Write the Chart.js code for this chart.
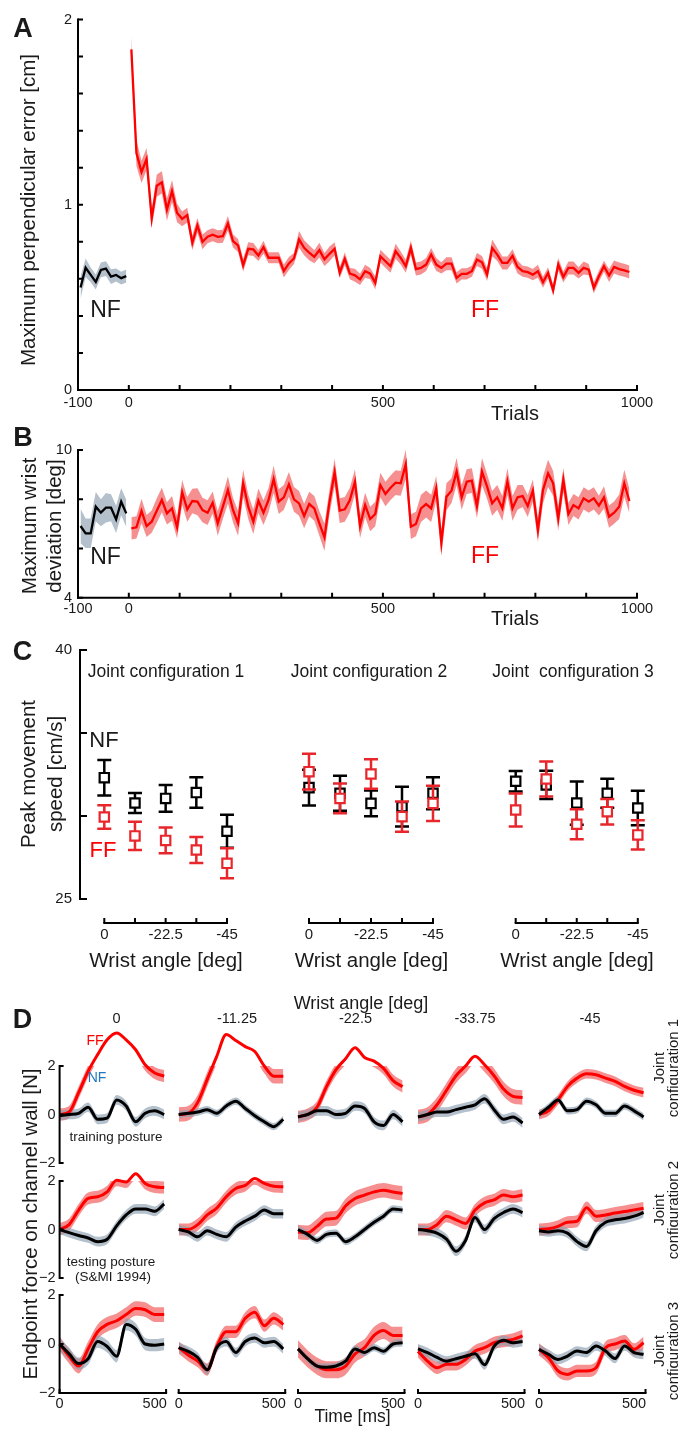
<!DOCTYPE html>
<html>
<head>
<meta charset="utf-8">
<title>Force-field adaptation</title>
<script src="https://cdn.jsdelivr.net/npm/chart.js@4.4.1/dist/chart.umd.min.js"></script>
<style>
  body { margin: 0; background: #fff; }
  #fig { position: relative; width: 678px; height: 1435px; overflow: hidden;
         font-family: "Liberation Sans", Arial, Helvetica, sans-serif; color: #1a1a1a; }
  #fig canvas { position: absolute; z-index: 1; }
  .t { position: absolute; z-index: 2; white-space: pre; line-height: 1; text-align: center;
       transform: translate(-50%, -50%); }
</style>
</head>
<body>
<div id="fig"></div>
<script>
// --- PANEL A / B : 10-trial bins ---
const trialsNF = [-95, -85, -75, -65, -55, -45, -35, -25, -15, -5];
const trialsFF = [];
for (let t = 5; t < 990; t += 10) trialsFF.push(t);   // bin centres

const perpNF = [0.553, 0.660, 0.621, 0.583, 0.648, 0.655, 0.612, 0.621, 0.604, 0.615];
const perpNFse = [0.06, 0.05, 0.04, 0.04, 0.04, 0.04, 0.04, 0.035, 0.035, 0.035];
const perpFF = [
  1.839, 1.279, 1.177, 1.247, 0.926, 1.103, 1.121, 0.974, 1.073, 0.956,
  0.924, 0.944, 0.795, 0.888, 0.800, 0.827, 0.838, 0.827, 0.830, 0.899,
  0.804, 0.780, 0.673, 0.762, 0.759, 0.726, 0.771, 0.714, 0.714, 0.714,
  0.642, 0.683, 0.710, 0.813, 0.768, 0.741, 0.719, 0.755, 0.705, 0.735,
  0.762, 0.633, 0.708, 0.628, 0.619, 0.597, 0.641, 0.628, 0.578, 0.722,
  0.695, 0.668, 0.749, 0.713, 0.668, 0.767, 0.653, 0.659, 0.677, 0.731,
  0.677, 0.659, 0.682, 0.682, 0.605, 0.627, 0.627, 0.641, 0.704, 0.689,
  0.623, 0.767, 0.731, 0.686, 0.686, 0.725, 0.664, 0.641, 0.636, 0.623,
  0.641, 0.582, 0.632, 0.539, 0.677, 0.610, 0.659, 0.659, 0.632, 0.659,
  0.650, 0.551, 0.614, 0.668, 0.618, 0.664, 0.653, 0.646, 0.637];
const perpFFse = [
  0.07, 0.07, 0.06, 0.06, 0.05, 0.06, 0.06, 0.06, 0.06, 0.05,
  0.04, 0.04, 0.04, 0.04, 0.04, 0.035, 0.035, 0.035, 0.035, 0.04,
  0.035, 0.035, 0.035, 0.035, 0.035, 0.03, 0.035, 0.03, 0.03, 0.03,
  0.035, 0.035, 0.03, 0.045, 0.04, 0.04, 0.035, 0.04, 0.035, 0.04,
  0.035, 0.03, 0.035, 0.03, 0.035, 0.03, 0.035, 0.03, 0.035, 0.035,
  0.035, 0.035, 0.04, 0.035, 0.035, 0.04, 0.035, 0.035, 0.035, 0.035,
  0.035, 0.03, 0.035, 0.035, 0.03, 0.03, 0.03, 0.03, 0.035, 0.035,
  0.035, 0.045, 0.035, 0.035, 0.035, 0.035, 0.035, 0.03, 0.03, 0.03,
  0.035, 0.03, 0.03, 0.03, 0.035, 0.03, 0.035, 0.035, 0.03, 0.035,
  0.03, 0.03, 0.03, 0.03, 0.035, 0.035, 0.035, 0.035, 0.035];

const wristNF = [6.912, 6.614, 6.614, 7.697, 7.454, 7.657, 7.657, 7.183, 7.901, 7.427];
const wristNFse = [0.7, 0.6, 0.6, 0.6, 0.55, 0.6, 0.55, 0.55, 0.55, 0.55];
const wristFF = [
  6.817, 6.858, 7.521, 6.912, 7.088, 7.535, 7.968, 7.427, 7.630, 6.858,
  8.280, 7.589, 7.928, 7.901, 7.562, 7.454, 7.860, 7.020, 7.697, 8.375,
  7.562, 7.020, 8.646, 7.697, 7.088, 7.941, 7.454, 7.968, 8.808, 7.901,
  8.077, 8.605, 7.995, 7.833, 7.318, 7.806, 7.630, 7.020, 6.451, 7.901,
  9.093, 7.535, 7.589, 7.968, 8.713, 6.912, 7.765, 7.196, 7.399, 8.578,
  8.212, 8.469, 8.673, 8.646, 9.418, 6.885, 6.993, 7.630, 7.806, 7.630,
  8.442, 6.235, 8.104, 8.348, 9.120, 8.077, 8.713, 8.754, 7.725, 9.120,
  8.510, 7.833, 8.077, 7.630, 8.713, 7.630, 8.077, 8.131, 7.725, 8.348,
  6.749, 8.375, 9.052, 8.646, 7.223, 8.781, 7.399, 7.765, 7.630, 8.036,
  7.901, 8.036, 7.738, 8.077, 7.291, 7.454, 7.697, 8.646, 7.928];
const wristFFse = [
  0.45, 0.45, 0.5, 0.45, 0.45, 0.5, 0.5, 0.45, 0.5, 0.45,
  0.5, 0.5, 0.5, 0.55, 0.5, 0.5, 0.45, 0.5, 0.5, 0.55,
  0.5, 0.5, 0.55, 0.5, 0.5, 0.5, 0.5, 0.5, 0.55, 0.5,
  0.5, 0.5, 0.5, 0.5, 0.5, 0.5, 0.5, 0.5, 0.55, 0.5,
  0.55, 0.5, 0.5, 0.5, 0.5, 0.5, 0.5, 0.5, 0.5, 0.5,
  0.5, 0.5, 0.5, 0.5, 0.6, 0.5, 0.5, 0.55, 0.55, 0.55,
  0.5, 0.55, 0.55, 0.5, 0.55, 0.5, 0.5, 0.5, 0.5, 0.55,
  0.5, 0.5, 0.5, 0.5, 0.55, 0.5, 0.5, 0.45, 0.45, 0.45,
  0.5, 0.55, 0.55, 0.5, 0.5, 0.5, 0.45, 0.45, 0.45, 0.45,
  0.45, 0.45, 0.4, 0.45, 0.45, 0.45, 0.5, 0.55, 0.5];

const trialTicks = [-100, 0, 100, 200, 300, 400, 500, 600, 700, 800, 900, 1000];
const trialLabels = [-100, 0, 500, 1000];
const perpTicks = [0, 0.2, 0.4, 0.6, 0.8, 1, 1.2, 1.4, 1.6, 1.8, 2];
const perpLabels = [0, 1, 2];
const wristTicks = [4, 6, 8, 10];
const wristLabels = [4, 10];

// --- PANEL C : peak speed per joint configuration ---
const cAngles = [0, -11.25, -22.5, -33.75, -45];
const cAngleLabels = [0, -22.5, -45];
const cSpeedTicks = [25, 30, 35, 40];
const cSpeedLabels = [25, 40];
const cNF = [[32.31, 30.78, 31.06, 31.41, 29.08], [31.71, 31.37, 30.76, 30.56, 31.37], [32.09, 31.87, 30.78, 31.37, 30.48]];
const cNFse = [[1.07, 0.6, 0.8, 0.92, 1.0], [1.08, 1.05, 0.78, 1.2, 0.96], [0.62, 0.85, 1.3, 0.87, 1.04]];
const cFF = [[29.94, 28.80, 28.53, 27.95, 27.15], [32.67, 31.06, 32.53, 29.96, 30.76], [30.36, 32.23, 29.5, 30.26, 28.86]];
const cFFse = [[0.71, 0.85, 0.78, 0.78, 0.9], [1.08, 0.9, 0.89, 0.91, 1.06], [1.0, 1.05, 0.9, 0.77, 0.88]];

// --- PANEL D : channel force traces (one inner array per wrist angle) ---
const dTime = [0, 50, 100, 150, 200, 250, 300, 350, 400, 450, 500, 550];
const dAngles = ['0', '-11.25', '-22.5', '-33.75', '-45'];
const dForceTicks = [-2, 0, 2];
const dTimeTicks = [0, 560];
const dTimeLabels = [0, 500];
const dFF1 = [
  [0, 0.1, 0.9, 1.78, 2.47, 3.08, 3.36, 3.08, 2.67, 2.05, 1.71, 1.58],
  [0, 0.05, 0.5, 1.45, 2.4, 3.3, 3.05, 2.8, 2.6, 2.0, 1.58, 1.58],
  [-0.1, 0.0, 0.3, 1.15, 1.85, 2.3, 2.75, 2.35, 2.2, 1.9, 1.4, 1.15],
  [-0.1, 0.0, 0.4, 1.0, 1.6, 2.0, 2.4, 2.05, 1.6, 1.05, 0.75, 0.7],
  [0, 0.15, 0.6, 1.16, 1.5, 1.68, 1.64, 1.5, 1.37, 1.16, 1.0, 0.9]];
const dNF1 = [
  [-0.05, 0.0, 0.05, 0.3, -0.2, -0.15, 0.6, 0.35, -0.3, 0.05, 0.15, 0.0],
  [0, 0.05, 0.1, 0.2, 0.05, 0.35, 0.55, 0.25, -0.05, -0.3, -0.5, -0.2],
  [-0.1, 0.0, 0.15, 0.15, 0.0, 0.05, 0.35, 0.25, -0.3, -0.45, 0.0, -0.3],
  [-0.1, 0.0, 0.1, 0.1, 0.2, 0.3, 0.4, 0.65, 0.2, -0.2, -0.1, -0.35],
  [0, 0.3, 0.6, 0.15, 0.2, 0.55, 0.4, 0.05, 0.05, 0.35, 0.15, -0.1]];
const dFF2 = [
  [0, 0.2, 0.8, 1.28, 1.35, 1.55, 2.03, 1.96, 2.3, 1.9, 1.76, 1.73],
  [0, 0, 0.2, 0.6, 0.88, 1.35, 1.69, 1.82, 2.1, 1.9, 1.78, 1.76],
  [-0.1, -0.13, 0.13, 0.43, 0.47, 0.97, 1.28, 1.42, 1.55, 1.62, 1.55, 1.49],
  [0, 0, 0.2, 0.55, 0.4, 0.25, 0.8, 1.1, 1.22, 1.42, 1.35, 1.42],
  [0, 0.03, 0.13, 0.3, 0.34, 0.9, 0.55, 0.6, 0.68, 0.74, 0.81, 0.88]];
const dNF2 = [
  [0, -0.13, -0.25, -0.35, -0.5, -0.4, 0.15, 0.6, 0.85, 0.85, 0.75, 1.05],
  [0, -0.1, -0.3, -0.05, -0.2, -0.3, 0.1, 0.35, 0.55, 0.8, 0.65, 0.65],
  [0, -0.2, -0.45, -0.2, -0.15, -0.5, -0.3, 0.0, 0.3, 0.55, 0.85, 0.8],
  [0, -0.05, -0.15, -0.4, -0.9, -0.45, 0.5, 0.0, 0.45, 0.7, 0.85, 0.7],
  [-0.05, -0.1, -0.05, -0.15, -0.5, -0.7, -0.05, 0.3, 0.4, 0.45, 0.55, 0.7]];
const dFF3 = [
  [0, -0.5, -0.9, -0.2, 0.5, 0.8, 0.95, 1.2, 1.45, 1.4, 1.2, 1.2],
  [-0.15, -0.45, -0.7, -1.05, -0.1, 0.5, 0.5, 1.05, 1.3, 0.75, 1.05, 0.8],
  [-0.2, -0.6, -0.9, -1.05, -1.05, -0.9, -0.4, -0.15, 0.35, 0.55, 0.35, 0.35],
  [-0.3, -0.7, -0.97, -0.83, -0.83, -0.63, -0.29, -0.15, 0.05, 0.12, 0.19, 0.33],
  [-0.22, -0.56, -1.1, -1.24, -1.1, -1.1, -0.97, -0.15, 0.0, 0.12, -0.22, 0.05]];
const dNF3 = [
  [0, -0.4, -0.8, -0.6, 0.1, -0.1, -0.5, 0.8, 0.6, 0.0, -0.05, 0.0],
  [-0.15, -0.3, -0.55, -1.05, -0.15, 0.1, -0.35, 0.1, 0.25, 0.05, 0.1, -0.2],
  [-0.2, -0.6, -0.9, -0.95, -0.9, -0.7, -0.2, -0.35, -0.15, -0.3, 0.0, 0.05],
  [-0.2, -0.35, -0.55, -0.7, -0.6, -0.5, -0.4, -0.85, -0.1, 0.15, 0.05, 0.1],
  [-0.22, -0.42, -0.63, -0.49, -0.29, -0.35, -0.08, -0.29, -0.59, -0.08, -0.35, -0.42]];
const dFFse = [[0.25, 0.3, 0.25, 0.3, 0.2], [0.25, 0.25, 0.3, 0.25, 0.25], [0.3, 0.25, 0.35, 0.25, 0.25]];
const dNFse = [[0.2, 0.15, 0.2, 0.2, 0.15], [0.2, 0.2, 0.15, 0.2, 0.2], [0.25, 0.2, 0.15, 0.2, 0.2]];

// --- colours ---
const RED = '#ff0000';
const RED_BAND = 'rgba(240, 70, 70, 0.6)';
const GREY_BAND = 'rgba(140, 158, 175, 0.65)';
const C_RED = '#e8262b';
const FONT = '"Liberation Sans", Arial, sans-serif';

const fig = document.getElementById('fig');

// --- MATLAB-style detached axes (inward ticks), drawn from the chart scales ---
const matAxes = {
  id: 'matAxes',
  afterDatasetsDraw(chart, args, o) {
    if (!o || (!o.x && !o.y)) return;
    const { ctx, chartArea: a } = chart;
    const sx = chart.scales.x, sy = chart.scales.y;
    const lab = v => o.minus ? String(v).replace('-', '\u2212') : String(v);
    ctx.save();
    ctx.strokeStyle = '#000';
    ctx.fillStyle = '#1a1a1a';
    ctx.lineWidth = 2;
    ctx.font = (o.fs || 14.5) + 'px ' + FONT;
    if (o.y) {
      const X = a.left - (o.y.gap || 0), tl = o.y.tl || 5;
      ctx.lineCap = 'square';
      ctx.beginPath();
      ctx.moveTo(X, sy.getPixelForValue(sy.min));
      ctx.lineTo(X, sy.getPixelForValue(sy.max));
      ctx.stroke();
      ctx.lineCap = 'butt';
      ctx.beginPath();
      o.y.ticks.forEach(v => { const p = sy.getPixelForValue(v); ctx.moveTo(X, p); ctx.lineTo(X + tl, p); });
      ctx.stroke();
      ctx.textAlign = 'right';
      ctx.textBaseline = 'middle';
      o.y.labels.forEach(v => ctx.fillText(lab(v), X - o.y.pad, sy.getPixelForValue(v)));
    }
    if (o.x) {
      const Y = a.bottom + (o.x.gap || 0), tl = o.x.tl || 5;
      ctx.lineCap = 'square';
      ctx.beginPath();
      ctx.moveTo(sx.getPixelForValue(sx.min), Y);
      ctx.lineTo(sx.getPixelForValue(sx.max), Y);
      ctx.stroke();
      ctx.lineCap = 'butt';
      ctx.beginPath();
      o.x.ticks.forEach(v => { const p = sx.getPixelForValue(v); ctx.moveTo(p, Y); ctx.lineTo(p, Y - tl); });
      ctx.stroke();
      ctx.textAlign = 'center';
      ctx.textBaseline = 'middle';
      o.x.labels.forEach(v => ctx.fillText(lab(v), sx.getPixelForValue(v), Y + o.x.pad));
    }
    ctx.restore();
  }
};

// --- error bars (drawn just before each marker dataset) ---
const errBars = {
  id: 'errBars',
  beforeDatasetDraw(chart, args) {
    const ds = chart.data.datasets[args.index];
    if (!ds.err) return;
    const ctx = chart.ctx, sy = chart.scales.y;
    ctx.save();
    ctx.strokeStyle = ds.borderColor;
    ctx.lineWidth = 2.5;
    args.meta.data.forEach((pt, j) => {
      const v = ds.data[j].y, e = ds.err[j];
      const y1 = sy.getPixelForValue(v + e), y2 = sy.getPixelForValue(v - e);
      ctx.beginPath();
      ctx.moveTo(pt.x, y1); ctx.lineTo(pt.x, y2);
      ctx.moveTo(pt.x - 7, y1); ctx.lineTo(pt.x + 7, y1);
      ctx.moveTo(pt.x - 7, y2); ctx.lineTo(pt.x + 7, y2);
      ctx.stroke();
    });
    ctx.restore();
  }
};

// one canvas per axes; area = [left, top, right, bottom] of the plot box on the page
function plot(area, sets, o) {
  const M = 60;
  const L = Math.floor(area[0] - M), T = Math.floor(area[1] - M);
  const R = Math.ceil(area[2] + M), B = Math.ceil(area[3] + M);
  const cv = document.createElement('canvas');
  cv.width = R - L; cv.height = B - T;
  cv.style.left = L + 'px'; cv.style.top = T + 'px';
  fig.appendChild(cv);
  return new Chart(cv, {
    type: 'line',
    data: { datasets: sets },
    options: {
      responsive: false, animation: false, events: [], devicePixelRatio: 1,
      layout: { padding: { left: area[0] - L, top: area[1] - T, right: R - area[2], bottom: B - area[3] } },
      scales: {
        x: { type: 'linear', display: false, min: o.x[0], max: o.x[1], reverse: !!o.rev },
        y: { type: 'linear', display: false, min: o.y[0], max: o.y[1] }
      },
      plugins: { legend: { display: false }, tooltip: { enabled: false }, matAxes: o.axes || {} }
    },
    plugins: [matAxes, errBars]
  });
}

// mean line + shaded band (upper fills down to lower)
function band(xs, mean, se, line, shade, lw, extra, lineOrder, bandOrder) {
  const pts = arr => xs.map((x, i) => ({ x, y: arr[i] }));
  const s = i => Array.isArray(se) ? se[i] : se;
  const common = Object.assign({ pointRadius: 0, clip: false }, extra || {});
  return [
    Object.assign({ data: pts(mean), borderColor: line, borderWidth: lw, fill: false, order: lineOrder }, common),
    Object.assign({ data: pts(mean.map((m, i) => m + s(i))), borderWidth: 0, backgroundColor: shade, fill: '+1', order: bandOrder }, common),
    Object.assign({ data: pts(mean.map((m, i) => m - s(i))), borderWidth: 0, fill: false, order: bandOrder }, common)
  ];
}

function txt(s, x, y, size, css) {
  const d = document.createElement('div');
  d.className = 't';
  d.textContent = s;
  Object.assign(d.style, { left: x + 'px', top: y + 'px', fontSize: size + 'px' }, css || {});
  fig.appendChild(d);
}
const ROT = 'translate(-50%, -50%) rotate(-90deg)';
const BOLD = { fontWeight: 'bold' };

// ---------------- A ----------------
txt('A', 23, 28, 27, BOLD);
txt('Maximum perpendicular error [cm]', 28, 210, 20.5, { transform: ROT });
txt('NF', 105.5, 308.5, 23);
txt('FF', 485, 308.5, 23, { color: RED });
txt('Trials', 515, 413, 20);
plot([78, 19.5, 637, 390],
  band(trialsNF, perpNF, perpNFse, '#000', GREY_BAND, 2.3, null, 1, 3)
    .concat(band(trialsFF, perpFF, perpFFse, RED, RED_BAND, 2.3, null, 1, 3)),
  { x: [-100, 1000], y: [0, 2],
    axes: { fs: 14.5,
      y: { ticks: perpTicks, labels: perpLabels, tl: 5, pad: 6 },
      x: { ticks: trialTicks, labels: trialLabels, tl: 5, pad: 13 } } });

// ---------------- B ----------------
txt('B', 23, 436.5, 27, BOLD);
txt('Maximum wrist\ndeviation [deg]', 40.5, 526, 20.5, { transform: ROT, lineHeight: '25px' });
txt('NF', 105.5, 556, 23);
txt('FF', 485, 555, 23, { color: RED });
txt('Trials', 515, 618, 20);
plot([78, 450, 637, 597.7],
  band(trialsNF, wristNF, wristNFse, '#000', GREY_BAND, 2.3, null, 1, 3)
    .concat(band(trialsFF, wristFF, wristFFse, RED, RED_BAND, 2.3, null, 1, 3)),
  { x: [-100, 1000], y: [4, 10],
    axes: { fs: 14.5,
      y: { ticks: wristTicks, labels: wristLabels, tl: 5, pad: 6 },
      x: { ticks: trialTicks, labels: trialLabels, tl: 5, pad: 11 } } });

// ---------------- C ----------------
txt('C', 22.5, 650.5, 27, BOLD);
txt('Peak movement\nspeed [cm/s]', 40.5, 774, 20.5, { transform: ROT, lineHeight: '27px' });
txt('NF', 104, 740, 22);
txt('FF', 103, 850, 22, { color: RED });
const cGroupX = [[104.3, 227], [309, 433], [515.7, 637.8]];
const cTitles = ['Joint configuration 1', 'Joint configuration 2', 'Joint  configuration 3'];
const cTitleX = [166, 369, 573];
const cXlabelX = [166, 371.5, 577];
cGroupX.forEach((gx, g) => {
  txt(cTitles[g], cTitleX[g], 672, 17.5);
  txt('Wrist angle [deg]', cXlabelX[g], 960, 20.5);
  const marks = (mean, se, col, ord) => ({
    data: cAngles.map((a, i) => ({ x: a, y: mean[i] })), err: se,
    showLine: false, pointStyle: 'rect', pointRadius: 6.6, borderWidth: 2.2,
    borderColor: col, pointBorderColor: col, pointBackgroundColor: '#fff', backgroundColor: '#fff',
    clip: false, order: ord
  });
  plot([gx[0], 650, gx[1], 899],
    [marks(cFF[g], cFFse[g], C_RED, 1), marks(cNF[g], cNFse[g], '#000', 2)],
    { x: [-45, 0], rev: true, y: [25, 40],
      axes: { fs: 15,
        x: { gap: 24, ticks: cAngles, labels: cAngleLabels, tl: 5, pad: 12 },
        y: g === 0 ? { gap: gx[0] - 80, ticks: cSpeedTicks, labels: cSpeedLabels, tl: 7, pad: 8 } : null } });
});

// ---------------- D ----------------
txt('D', 22.5, 1018.5, 27, BOLD);
txt('Wrist angle [deg]', 361, 1003, 18);
txt('Endpoint force on channel wall [N]', 30, 1224, 20.5, { transform: ROT });
txt('Time [ms]', 352.5, 1417, 17.5);
const dColX = [59.6, 178.7, 298, 418, 539];
const dTitleX = [116.5, 237, 355.5, 475, 590];
const dRowTop = [1066, 1181, 1295];
const dRowBot = [1163, 1278, 1393];
const dRowLabelY = [1068, 1210, 1351];
const dRows = [[dFF1, dNF1], [dFF2, dNF2], [dFF3, dNF3]];
dAngles.forEach((a, c) => txt(a, dTitleX[c], 1018, 14.5));
const smooth = { tension: 0.4, cubicInterpolationMode: 'monotone' };
dRows.forEach(([ff, nf], r) => {
  txt('Joint\nconfiguration ' + (r + 1), 664.5, dRowLabelY[r], 15, { transform: ROT, lineHeight: '13.5px' });
  dColX.forEach((x0, c) => {
    const sets = band(dTime, nf[c], dNFse[r][c], '#000', GREY_BAND, 3, smooth, 1, 3)
      .concat(band(dTime, ff[c], dFFse[r][c], RED, RED_BAND, 3, smooth, 2, 4));
    plot([x0, dRowTop[r], x0 + 106.5, dRowBot[r]], sets,
      { x: [0, 560], y: [-2, 2],
        axes: { fs: 14.5, minus: true,
          y: c === 0 ? { ticks: dForceTicks, labels: dForceTicks, tl: 4, pad: 4 } : null,
          x: r === 2 ? { ticks: dTimeTicks, labels: dTimeLabels, tl: 4, pad: 11 } : null } });
  });
});
txt('FF', 95, 1040, 14, { color: RED });
txt('NF', 97, 1077, 14, { color: '#1f78c1' });
txt('training posture', 116, 1137, 13.5);
txt('testing posture', 111, 1262, 13.5);
txt('(S&MI 1994)', 113, 1277, 13.5);
</script>
</body>
</html>
